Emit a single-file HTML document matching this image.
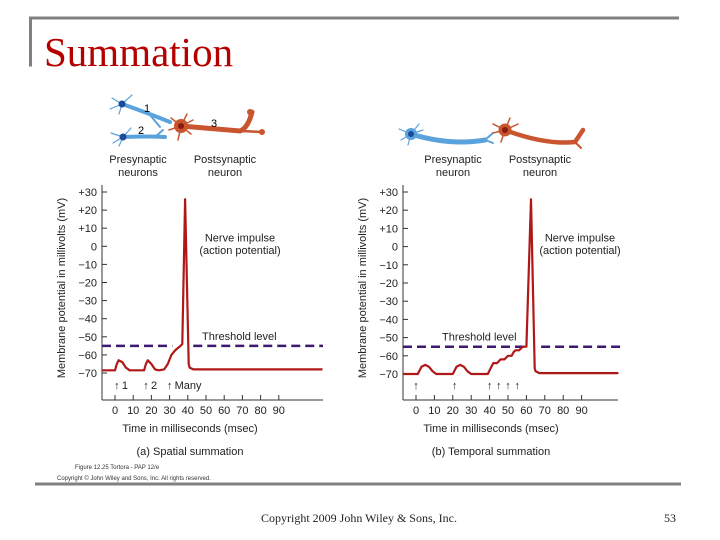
<!DOCTYPE html>
<html><head><meta charset="utf-8"><style>
body{margin:0;background:#fff;}
svg{display:block;font-family:"Liberation Sans",sans-serif;}
</style></head><body>
<svg width="720" height="540" viewBox="0 0 720 540">
<rect x="29" y="16.5" width="650" height="3" fill="#808080"/>
<rect x="29" y="16.5" width="3" height="50" fill="#808080"/>
<rect x="35" y="482.5" width="646" height="3" fill="#808080"/>
<text x="44" y="66" font-family="Liberation Serif, serif" font-size="41" fill="#b40000">Summation</text>

<g>
<g stroke="#5aa2dc" fill="none" stroke-linecap="round">
<path d="M122 104 Q145 112 170 122" stroke-width="4"/>
<path d="M150 115 L160 127" stroke-width="2"/>
<path d="M123 137 Q145 136 165 137" stroke-width="4"/>
<path d="M155 137 L163 130" stroke-width="2"/>
<path d="M122 104 l-10 -6 M122 104 l10 -9 M122 104 l-12 5 M122 104 l-3 10 M123 137 l-12 -4 M123 137 l8 -9 M123 137 l-4 9 M123 137 l-10 6" stroke-width="1.2"/>
</g>
<circle cx="122" cy="104" r="3.5" fill="#1a4a9a"/><circle cx="123" cy="137" r="3.5" fill="#1a4a9a"/>
<g stroke="#c8552e" fill="none" stroke-linecap="round">
<path d="M181 126 L240 131 Q248 128 252 112" stroke-width="5"/>
<path d="M240 131 L262 132" stroke-width="2.5"/>
<path d="M181 126 l-10 -8 M181 126 l6 -12 M181 126 l12 -6 M181 126 l-3 14 M181 126 l-12 4 M181 126 l10 8" stroke-width="1.5"/>
</g>
<circle cx="181" cy="126" r="7" fill="#c8552e"/><circle cx="181" cy="126" r="3" fill="#8a1a10"/>
<circle cx="250" cy="112" r="3" fill="#c8552e"/><circle cx="262" cy="132" r="3" fill="#c8552e"/>
<text x="144" y="112" font-size="11">1</text>
<text x="138" y="134" font-size="11">2</text>
<text x="211" y="127" font-size="11">3</text>
<text x="138" y="163" font-size="11" text-anchor="middle" fill="#222">Presynaptic</text>
<text x="138" y="176" font-size="11" text-anchor="middle" fill="#222">neurons</text>
<text x="225" y="163" font-size="11" text-anchor="middle" fill="#222">Postsynaptic</text>
<text x="225" y="176" font-size="11" text-anchor="middle" fill="#222">neuron</text>
</g>

<g>
<g stroke="#5aa2dc" fill="none" stroke-linecap="round">
<path d="M411 134 Q450 146 485 140" stroke-width="5"/>
<path d="M485 140 l8 -7 M485 140 l8 3" stroke-width="2"/>
<path d="M411 134 l-12 -5 M411 134 l8 -10 M411 134 l12 -4 M411 134 l-3 11 M411 134 l-10 6" stroke-width="1.2"/>
</g>
<circle cx="411" cy="134" r="6" fill="#5aa2dc"/><circle cx="411" cy="134" r="3" fill="#1a4a9a"/>
<g stroke="#c8552e" fill="none" stroke-linecap="round">
<path d="M505 130 Q545 145 575 142 L583 130" stroke-width="4.5"/>
<path d="M575 142 l6 6" stroke-width="2"/>
<path d="M505 130 l-12 -6 M505 130 l5 -12 M505 130 l13 -6 M505 130 l-4 12 M505 130 l-12 3" stroke-width="1.5"/>
</g>
<circle cx="505" cy="130" r="6.5" fill="#c8552e"/><circle cx="505" cy="130" r="3" fill="#8a1a10"/>
<text x="453" y="163" font-size="11" text-anchor="middle" fill="#222">Presynaptic</text>
<text x="453" y="176" font-size="11" text-anchor="middle" fill="#222">neuron</text>
<text x="540" y="163" font-size="11" text-anchor="middle" fill="#222">Postsynaptic</text>
<text x="540" y="176" font-size="11" text-anchor="middle" fill="#222">neuron</text>
</g>

<g id="chartA"></g>
<g id="chartB"></g>

<text x="75" y="469" font-size="6" fill="#333">Figure 12.25  Tortora - PAP 12/e</text>
<text x="57" y="480" font-size="6" fill="#333">Copyright © John Wiley and Sons, Inc. All rights reserved.</text>
<text x="359" y="522" font-family="Liberation Serif, serif" font-size="12" text-anchor="middle" fill="#222">Copyright 2009 John Wiley &amp; Sons, Inc.</text>
<text x="676" y="522" font-family="Liberation Serif, serif" font-size="12" text-anchor="end" fill="#222">53</text>
</svg>
<script>
const yTicks = [30,20,10,0,-10,-20,-30,-40,-50,-60,-70];
const yTickLabels = ["+30","+20","+10","0","\u221210","\u221220","\u221230","\u221240","\u221250","\u221260","\u221270"];
const xTicks = [0,10,20,30,40,50,60,70,80,90];
const thresholdMv = -55;
const spatialT = [-7,0,1,2,4,6,8,16,17,18,20,22,24,27,29,31,33,36,37,38.5,40.5,41,43,114];
const spatialV = [-68.5,-68.5,-65,-63,-64,-67,-68.5,-68.5,-65,-63,-65,-68,-68.5,-68,-65,-60,-57.5,-55,-54,26,-65,-67,-68,-68];
const temporalT = [-7,1,3,5,7,9,11,20,22,24,26,28,30,39,41,42,44,45,46,48,49,50,52,53,54,56,57,58,60,62.5,64.5,65,67,110];
const temporalV = [-70,-70,-66,-65,-66,-68.5,-70,-70,-66,-65,-66,-68.5,-70,-70,-66,-64,-64,-63,-62,-62,-61,-60,-60,-58,-57,-57,-56,-55,-55,26,-67,-68.5,-69.5,-69.5];
const spatialArrowsT = [1,17,30];
const spatialArrowLabels = ["1","2","Many"];
const temporalArrowsT = [0,21,40,45,50,55];

const NS="http://www.w3.org/2000/svg";
function mk(parent,tag,attrs,txt){const e=document.createElementNS(NS,tag);for(const k in attrs)e.setAttribute(k,attrs[k]);if(txt!==undefined)e.textContent=txt;parent.appendChild(e);return e;}

function draw(g,cfg,T,V,arrowsT,arrowLabels){
  const xS=t=>cfg.x0+(t)*cfg.xs;
  const yS=v=>cfg.y30+(30-v)*cfg.ys;
  mk(g,'line',{x1:cfg.ax,y1:185,x2:cfg.ax,y2:400,stroke:'#333','stroke-width':1});
  mk(g,'line',{x1:cfg.ax,y1:400,x2:cfg.xend,y2:400,stroke:'#333','stroke-width':1});
  yTicks.forEach((v,i)=>{
    const tk=mk(g,'line',{x1:cfg.ax,y1:yS(v),x2:cfg.ax+5,y2:yS(v),stroke:'#333'});
    
    
    const lb=mk(g,'text',{x:cfg.ax-5,y:yS(v)+4,'font-size':11,'text-anchor':'end',fill:'#222'},yTickLabels[i]);
    
    
  });
  xTicks.forEach(t=>{
    const tk=mk(g,'line',{x1:xS(t),y1:395,x2:xS(t),y2:400,stroke:'#333'});
    
    
    const lb=mk(g,'text',{x:xS(t),y:414,'font-size':11,'text-anchor':'middle',fill:'#222'},String(t));
    
    
  });
  const yt=mk(g,'text',{x:0,y:0,'font-size':11,'text-anchor':'middle',fill:'#222',transform:`translate(${cfg.ax-37},288) rotate(-90)`},'Membrane potential in millivolts (mV)');
  
  
  const xt=mk(g,'text',{x:cfg.x0+75,y:432,'font-size':11,'text-anchor':'middle',fill:'#222'},'Time in milliseconds (msec)');
  
  
  const ct=mk(g,'text',{x:cfg.x0+75,y:455,'font-size':11,'text-anchor':'middle',fill:'#222'},cfg.caption);
  
  
  const ty=yS(thresholdMv);
  const th1=mk(g,'line',{x1:cfg.ax,y1:ty,x2:xS(cfg.gapA),y2:ty,stroke:'#3d1a6e','stroke-width':2.5,'stroke-dasharray':'9,5'});
  
  
  const th2=mk(g,'line',{x1:xS(cfg.gapB),y1:ty,x2:cfg.thEnd,y2:ty,stroke:'#3d1a6e','stroke-width':2.5,'stroke-dasharray':'9,5'});
  
  
  const tl=mk(g,'text',{x:cfg.thLabelX,y:ty-6,'font-size':11,fill:'#222'},'Threshold level');
  
  
  const n1=mk(g,'text',{x:cfg.nerveX,y:yS(5)+4,'font-size':11,'text-anchor':'middle',fill:'#222'},'Nerve impulse');
  
  
  mk(g,'text',{x:cfg.nerveX,y:yS(-2)+4,'font-size':11,'text-anchor':'middle',fill:'#222'},'(action potential)');
  const d=T.map((t,i)=>(i?'L':'M')+xS(t).toFixed(1)+' '+yS(V[i]).toFixed(1)).join(' ');
  const p=mk(g,'path',{d:d,fill:'none',stroke:'#b01818','stroke-width':2.2,'stroke-linejoin':'round'});
  
  
  arrowsT.forEach((t,i)=>{
    const x=xS(t);
    const a=mk(g,'text',{x:x,y:389,'font-size':11,'text-anchor':'middle',fill:'#222'},'\u2191');
    
    
    if(arrowLabels&&arrowLabels[i]){
      const l=mk(g,'text',{x:x+5,y:389,'font-size':11,fill:'#222'},arrowLabels[i]);
      
      
    }
  });
}
draw(document.getElementById('chartA'),{ax:102,x0:115,xs:1.82,y30:192,ys:1.81,xend:323,gapA:31.5,gapB:43,thEnd:323,thLabelX:202,nerveX:240,caption:'(a) Spatial summation'},spatialT,spatialV,spatialArrowsT,spatialArrowLabels);
draw(document.getElementById('chartB'),{ax:403,x0:416,xs:1.84,y30:192,ys:1.82,xend:618,gapA:61,gapB:68,thEnd:622,thLabelX:442,nerveX:580,caption:'(b) Temporal summation'},temporalT,temporalV,temporalArrowsT,null);
</script>
</body></html>
